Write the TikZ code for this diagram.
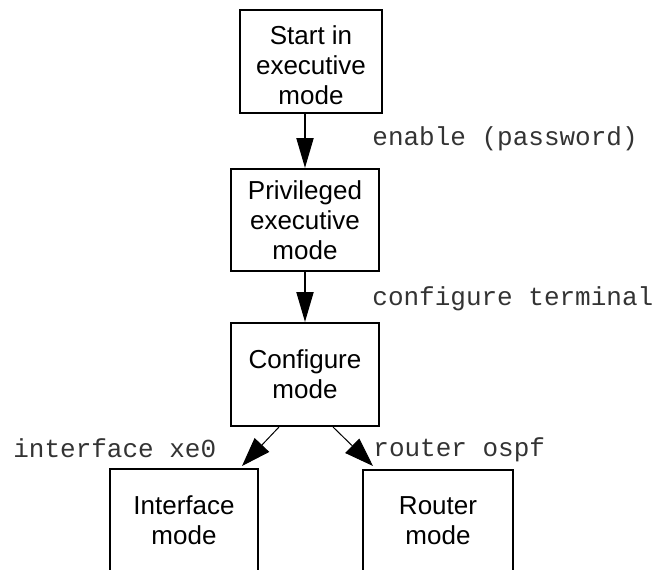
\documentclass[tikz,border=0pt]{standalone}
\usepackage{fontspec}
\setmainfont{Liberation Sans}
\setmonofont{Liberation Mono}
\usetikzlibrary{arrows.meta,calc}
\tikzset{
  modebox/.style={draw, line width=1pt, inner sep=0pt, align=center,
    font=\fontsize{13}{15}\selectfont},
  cmd/.style={anchor=base west, inner sep=0pt, text=black!80,
    font=\ttfamily\fontsize{13}{15}\selectfont},
  flow/.style={line width=1pt, -{Triangle[length=15pt,width=8.5pt]}},
  branch/.style={line width=0.5pt, -{Triangle[length=14.5pt,width=10pt]}},
}
\begin{document}
\begin{tikzpicture}[x=0.5pt,y=-0.5pt]
\useasboundingbox (0,0) rectangle (659,569);
\clip (0,0) rectangle (659,569);
\node[modebox, minimum width=71pt, minimum height=51.5pt, text height=43pt] (b1) at (311,61.5) {Start in\\executive\\mode};
\node[modebox, minimum width=74pt, minimum height=51pt] (b2) at (305,220) {Privileged\\executive\\mode};
\node[modebox, minimum width=74pt, minimum height=51.5pt] (b3) at (305,374.5) {Configure\\mode};
\node[modebox, minimum width=74pt, minimum height=51pt] (b4) at (184,520) {Interface\\mode};
\node[modebox, minimum width=75pt, minimum height=51pt] (b5) at (438,521) {Router\\mode};
\draw[flow] (b2.north |- b1.south) -- (b2.north);
\draw[flow] (b2.south) -- (b3.north);
\draw[branch] ($(b3.south)+(-26,0)$) -- ($(b4.north)+(58,-2)$);
\draw[branch] ($(b3.south)+(28,0)$) -- ($(b5.north)+(-65,-3)$);
\node[cmd] (l1) at (372,145) {enable (password)};
\node[cmd] (l2) at (372,305) {configure terminal};
\node[cmd] (l3) at (13,457) {interface xe0};
\node[cmd] (l4) at (373,456) {router ospf};
\end{tikzpicture}
\end{document}
